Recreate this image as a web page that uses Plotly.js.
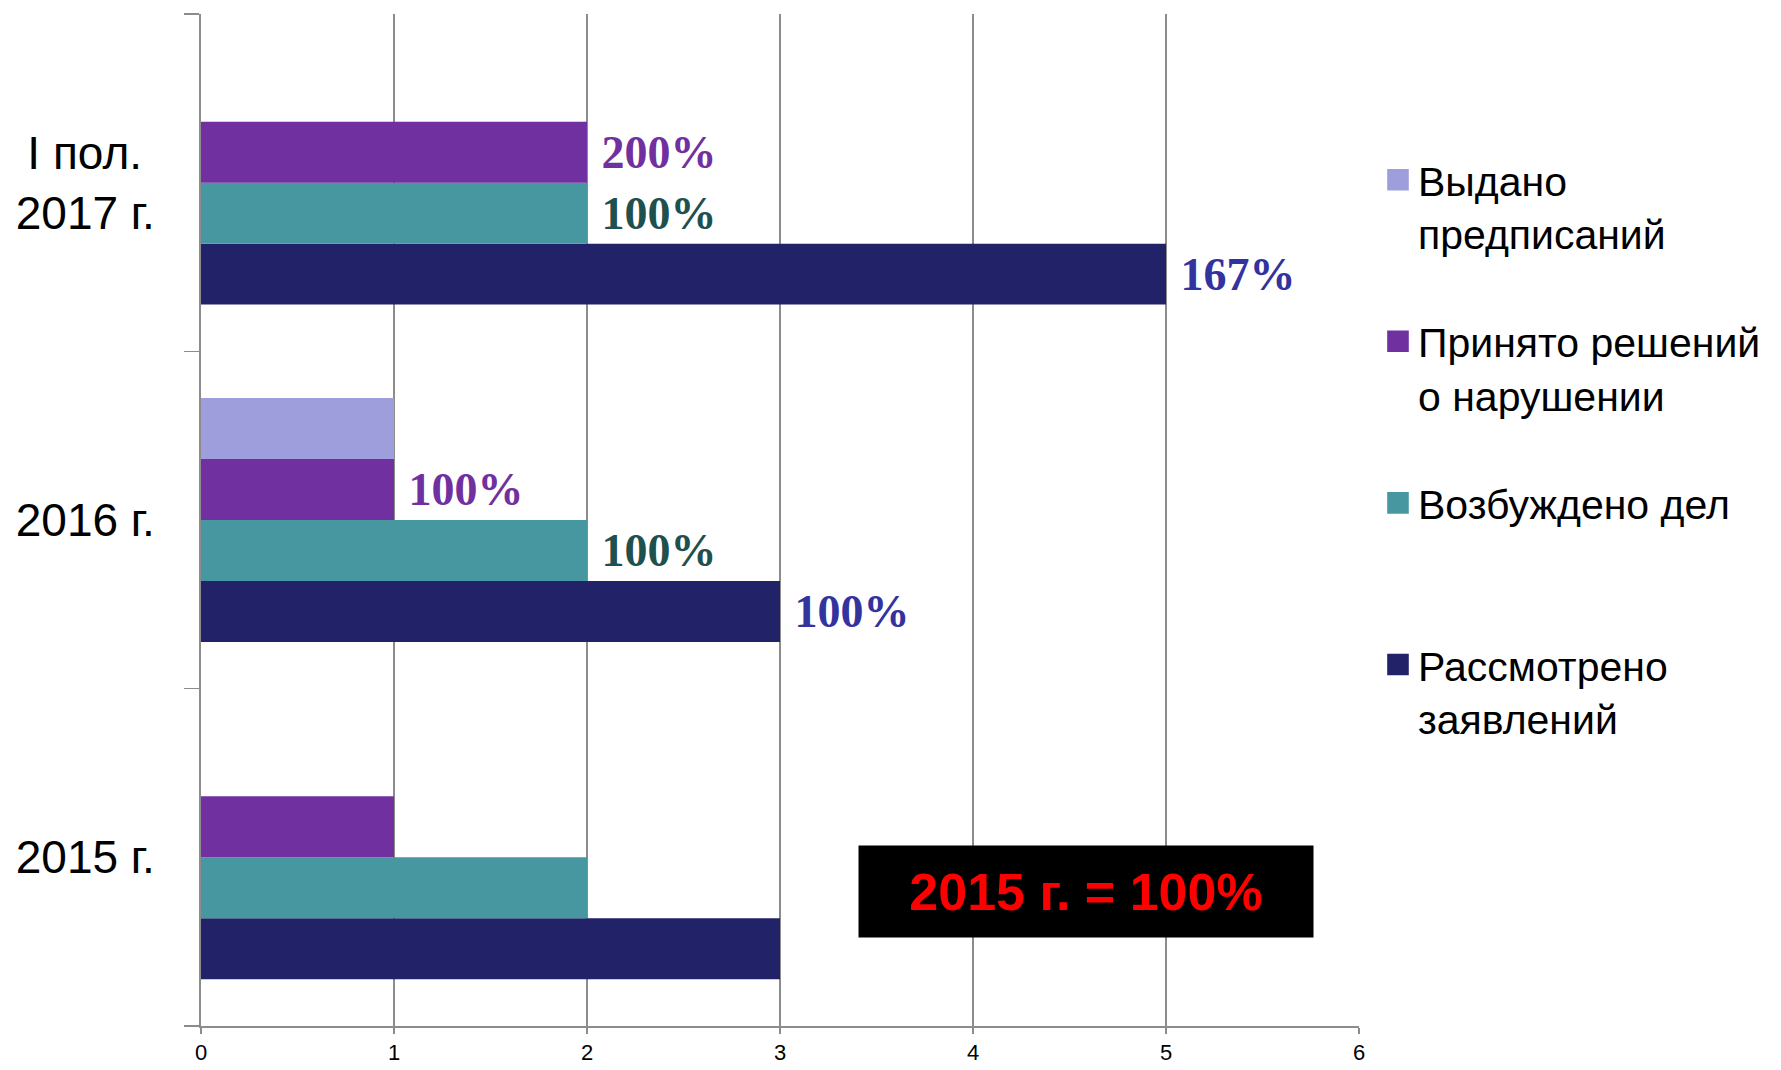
<!DOCTYPE html>
<html><head><meta charset="utf-8">
<script src="https://cdn.plot.ly/plotly-3.0.1.min.js"></script>
<style>body{margin:0;background:#fff}#chart{width:1781px;height:1070px}</style>
</head><body><div id="chart"></div>
<script>
// ---- data ----
const categories = ['2015 г.', '2016 г.', 'I пол.\u00A0<br>2017 г.'];
const seriesNames = ['Рассмотрено<br>заявлений', 'Возбуждено дел<br>\u00A0', 'Принято решений<br>о нарушении', 'Выдано<br>предписаний'];
const rassmotreno = [3, 3, 5];
const vozbuzhdeno = [2, 2, 2];
const prinyato = [1, 1, 2];
const vydano = [0, 1, 0];
const rassmotrenoLabels = ['', '100%', '167%'];
const vozbuzhdenoLabels = ['', '100%', '100%'];
const prinyatoLabels = ['', '100%', '200%'];
const vydanoLabels = ['', '', ''];
const xTickValues = [0, 1, 2, 3, 4, 5, 6];
const noteText = '2015 г. = 100%';

// ---- styles ----
const barColors = ['#222268', '#46979F', '#7030A0', '#9E9EDD'];
const labelColors = ['#3333A0', '#1F5050', '#7030A0', '#7030A0'];
const legendRanks = [4, 3, 2, 1];
const values = [rassmotreno, vozbuzhdeno, prinyato, vydano];
const labels = [rassmotrenoLabels, vozbuzhdenoLabels, prinyatoLabels, vydanoLabels];

const traces = values.map((v, i) => ({
  type: 'bar',
  orientation: 'h',
  name: seriesNames[i],
  legendgroup: 'g' + i,
  legendrank: legendRanks[i],
  y: categories,
  x: v,
  text: labels[i].map(t => t ? '\u00A0' + t : ''),
  textposition: 'outside',
  constraintext: 'none',
  cliponaxis: false,
  textfont: {family: 'Liberation Serif, Times New Roman, serif', size: 46, color: labelColors[i], weight: 'bold'},
  marker: {color: barColors[i], line: {width: 0}},
  hoverinfo: 'skip'
}));

const layout = {
  width: 1781, height: 1070,
  margin: {l: 201, r: 422, t: 14, b: 44},
  paper_bgcolor: '#fff', plot_bgcolor: '#fff',
  barmode: 'group', bargap: 0.277, bargroupgap: 0,
  showlegend: true,
  legend: {
    x: 1.0164, xanchor: 'left', y: 0.869, yanchor: 'top',
    traceorder: 'grouped', tracegroupgap: 52, valign: 'top',
    font: {family: 'Liberation Sans, Arial, sans-serif', size: 41, color: '#000'},
    bgcolor: 'rgba(0,0,0,0)'
  },
  xaxis: {
    range: [0, 6], tickvals: xTickValues, ticktext: xTickValues.map(String),
    showgrid: true, gridcolor: '#8c8c8c', gridwidth: 1.3,
    showline: true, linecolor: '#8c8c8c', linewidth: 2,
    ticks: 'outside', ticklen: 6, tickcolor: '#8c8c8c', tickwidth: 1.3,
    ticklabelstandoff: 0,
    tickfont: {family: 'Liberation Sans Narrow, Arial Narrow, sans-serif', size: 22, color: '#000'},
    zeroline: false, fixedrange: true
  },
  yaxis: {
    type: 'category', categoryorder: 'array', categoryarray: categories,
    showline: true, linecolor: '#8c8c8c', linewidth: 2,
    ticks: 'outside', ticklen: 15, tickcolor: '#8c8c8c', tickwidth: 1.3, tickson: 'boundaries',
    ticklabelstandoff: 35,
    showgrid: false,
    tickfont: {family: 'Liberation Sans, Arial, sans-serif', size: 46, color: '#000'},
    fixedrange: true
  },
  annotations: [{
    text: noteText, xref: 'x', yref: 'paper', x: 4.585, y: 0.1326,
    xanchor: 'center', yanchor: 'middle', showarrow: false,
    width: 454, height: 91, borderpad: 0, bgcolor: '#000',
    font: {family: 'Liberation Sans, Arial, sans-serif', size: 52, color: '#FF0000', weight: 'bold'}
  }]
};

Plotly.newPlot('chart', traces, layout, {staticPlot: true, displayModeBar: false}).then(() => {
  document.querySelectorAll('.legend .legendpoints path').forEach(p => {
    p.setAttribute('transform', 'translate(20,0) scale(1.8)');
  });
});
</script>
</body></html>
